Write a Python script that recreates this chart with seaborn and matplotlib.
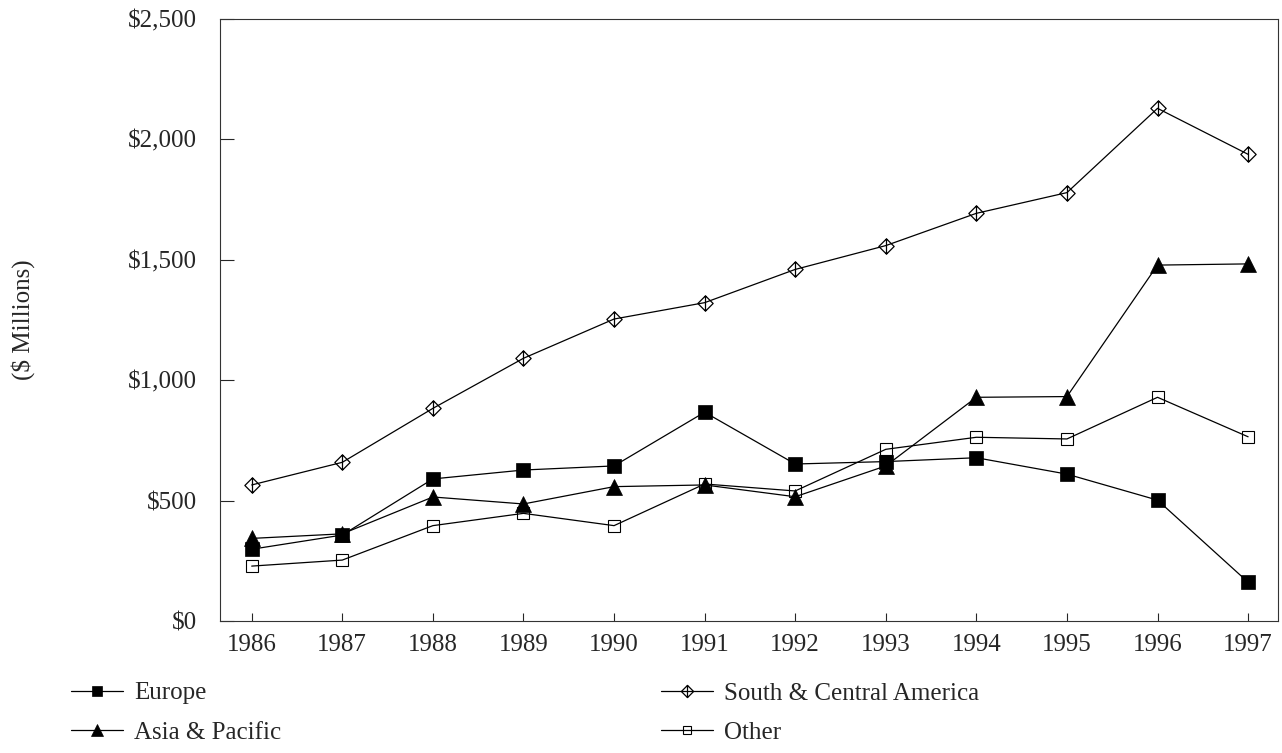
import numpy as np
import pandas as pd
import seaborn as sns
import matplotlib.pyplot as plt
from matplotlib.path import Path
from matplotlib.ticker import FuncFormatter

years = [1986, 1987, 1988, 1989, 1990, 1991, 1992, 1993, 1994, 1995, 1996, 1997]
europe = [298, 357, 590, 627, 644, 867, 652, 662, 678, 610, 502, 161]
asia_pacific = [343, 362, 515, 486, 558, 565, 516, 644, 929, 932, 1478, 1483]
south_central_america = [565, 659, 883, 1091, 1254, 1322, 1460, 1559, 1693, 1779, 2129, 1938]
other = [228, 253, 396, 447, 396, 569, 540, 713, 763, 756, 929, 765]

sns.set_style("ticks")
plt.rcParams["font.family"] = ["Liberation Serif", "DejaVu Serif"]
plt.rcParams["font.size"] = 18

fig = plt.figure(figsize=(12.82, 7.53), dpi=100)
ax = fig.add_axes([220 / 1282, 1 - 621 / 753, (1278 - 220) / 1282, (621 - 19) / 753])

# diamond with a vertical bar through it
diamond = Path(
    [(0, 1), (1, 0), (0, -1), (-1, 0), (0, 1), (0, 1), (0, -1)],
    [Path.MOVETO, Path.LINETO, Path.LINETO, Path.LINETO, Path.CLOSEPOLY, Path.MOVETO, Path.LINETO],
)

lw = 0.9
sns.lineplot(x=years, y=europe, ax=ax, color="black", lw=lw, marker="s", ms=9.5,
             mfc="black", mec="black", mew=0.5, label="Europe", legend=False)
sns.lineplot(x=years, y=asia_pacific, ax=ax, color="black", lw=lw, marker="^", ms=11,
             mfc="black", mec="black", mew=0.5, label="Asia & Pacific", legend=False)
sns.lineplot(x=years, y=south_central_america, ax=ax, color="black", lw=lw, marker=diamond, ms=11,
             mfc="none", mec="black", mew=0.9, label="South & Central America", legend=False)
sns.lineplot(x=years, y=other, ax=ax, color="black", lw=lw, marker="s", ms=8,
             mfc="none", mec="black", mew=0.8, label="Other", legend=False)

ax.set_xlim(1985.65, 1997.33)
ax.set_ylim(0, 2500)
ax.set_xticks(years)
ax.set_yticks([0, 500, 1000, 1500, 2000, 2500])
ax.yaxis.set_major_formatter(FuncFormatter(lambda v, p: f"${v:,.0f}"))
ax.set_xlabel("")
ax.set_ylabel("($ Millions)", fontsize=18)
ax.yaxis.set_label_coords((35 - 220) / 1058, 0.5)

ax.tick_params(axis="y", direction="in", length=10, width=0.8, pad=16.5, left=True, right=False)
ax.tick_params(axis="x", direction="in", length=6, width=0.8, pad=9.5, bottom=True, top=False)
for s in ax.spines.values():
    s.set_visible(True)
    s.set_linewidth(0.8)
    s.set_color("#333333")

handles, labels = ax.get_legend_handles_labels()
leg_kw = dict(loc="upper left", frameon=False, fontsize=18, handlelength=2.08,
              handletextpad=0.44, labelspacing=0.67, borderpad=0, borderaxespad=0,
              markerscale=0.8)
fig.legend([handles[0], handles[1]], [labels[0], labels[1]],
           bbox_to_anchor=(71 / 1282, 1 - 682 / 753), **leg_kw)
fig.legend([handles[2], handles[3]], [labels[2], labels[3]],
           bbox_to_anchor=(661 / 1282, 1 - 682 / 753), **leg_kw)

fig.savefig("out.png", dpi=100)
